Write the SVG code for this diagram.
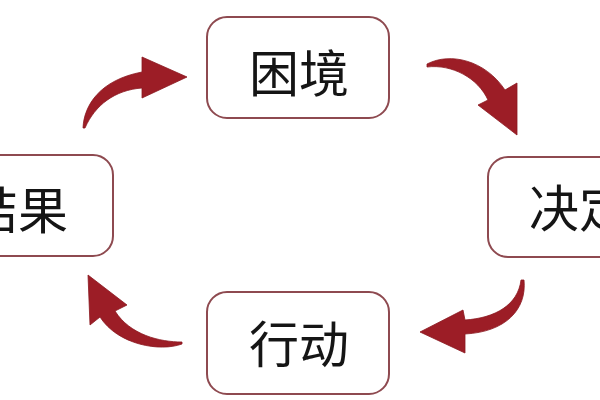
<svg xmlns="http://www.w3.org/2000/svg" width="600" height="400" viewBox="0 0 600 400">
<style>
.box{fill:#fff;stroke:#8e4a50;stroke-width:2}
.lbl{font-family:"Noto Sans CJK SC","Noto Sans",sans-serif;font-size:50px;fill:#151515;text-anchor:middle;dominant-baseline:central}
.arr{fill:#9c1d26;stroke:#8a1820;stroke-width:0.8;stroke-linejoin:round}
</style>
<rect width="600" height="400" fill="#fff"/>
<g id="node-kunjing">
<rect class="box" x="207" y="17" width="182" height="101" rx="20"/>
<text class="lbl" x="299" y="70">困境</text>
</g>
<g id="node-jueding">
<rect class="box" x="488" y="157" width="182" height="100" rx="20"/>
<text class="lbl" x="579" y="205">决定</text>
</g>
<g id="node-xingdong">
<rect class="box" x="207" y="292" width="182" height="102" rx="20"/>
<text class="lbl" x="299" y="341">行动</text>
</g>
<g id="node-jieguo">
<rect class="box" x="-69" y="155" width="182" height="101" rx="20"/>
<text class="lbl" x="18" y="207">结果</text>
</g>
<g id="connectors">
<path class="arr" d="M83,128 C84,105 100,80 142,72 L142,57 L187,77 L142,98 L142,88 C115,90 95,105 85,128 Z"/>
<path class="arr" d="M427,64 C450,52 485,60 505,90 L517,83 L517,135 L478,105 L488,100 C478,78 452,64 427,67 Z"/>
<path class="arr" d="M524,280 C527,310 505,332 465,334 L465,353 L420,332 L463,310 L465,320 C495,318 518,305 521,280 Z"/>
<path class="arr" d="M182,344 C160,352 118,345 100,317 L90,325 L88,275 L127,305 L115,311 C130,335 160,342 182,342 Z"/>
</g>
</svg>
